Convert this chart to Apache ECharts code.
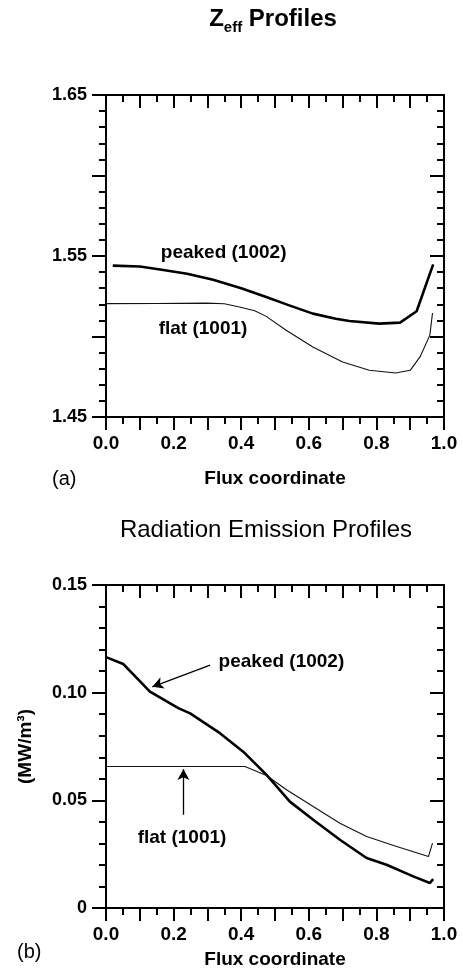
<!DOCTYPE html>
<html><head><meta charset="utf-8">
<script src="https://cdn.jsdelivr.net/npm/echarts@6/dist/echarts.min.js"></script>
<style>html,body{margin:0;padding:0;background:#fff}#c{width:463px;height:970px}</style>
</head><body><div id="c"></div>
<script>
// Panel (a): Zeff profiles
const fluxZeffPeaked = [0.02, 0.1, 0.16, 0.24, 0.317, 0.4, 0.474, 0.54, 0.612, 0.68, 0.72, 0.808, 0.87, 0.919, 0.968];
const zeffPeaked     = [1.544, 1.5435, 1.5416, 1.539, 1.5353, 1.530, 1.5245, 1.5195, 1.5142, 1.511, 1.5096, 1.508, 1.5086, 1.5157, 1.5448];
const fluxZeffFlat   = [0.0, 0.15, 0.297, 0.35, 0.395, 0.44, 0.474, 0.533, 0.612, 0.7, 0.779, 0.857, 0.9, 0.929, 0.958, 0.966];
const zeffFlat       = [1.5204, 1.5205, 1.5207, 1.5203, 1.5183, 1.5160, 1.5125, 1.5039, 1.4935, 1.4842, 1.479, 1.4773, 1.479, 1.4873, 1.5007, 1.5146];
// Panel (b): radiation emission profiles (MW/m^3)
const fluxRadPeaked  = [0.002, 0.051, 0.09, 0.13, 0.214, 0.249, 0.337, 0.406, 0.475, 0.544, 0.613, 0.692, 0.771, 0.83, 0.909, 0.958, 0.968];
const radPeaked      = [0.1164, 0.1133, 0.107, 0.1005, 0.0928, 0.0904, 0.0812, 0.0726, 0.0618, 0.0494, 0.041, 0.0317, 0.0232, 0.0201, 0.0147, 0.0116, 0.0134];
const fluxRadFlat    = [0.0, 0.2, 0.411, 0.475, 0.534, 0.613, 0.692, 0.771, 0.86, 0.954, 0.966];
const radFlat        = [0.0657, 0.0657, 0.0657, 0.0615, 0.0549, 0.0471, 0.0394, 0.0332, 0.0286, 0.0239, 0.0301];
// tick labels
const xTickLabels    = ['0.0', '0.2', '0.4', '0.6', '0.8', '1.0'];
const zeffTickLabels = ['1.45', '1.55', '1.65'];
const radTickLabels  = ['0', '0.05', '0.10', '0.15'];
const seriesNames    = ['peaked (1002)', 'flat (1001)'];

const zip = (xs, ys) => xs.map((x, i) => [x, ys[i]]);
const FONT = 'Liberation Sans';

function xFmt(v) {
  const s = v.toFixed(1);
  return xTickLabels.indexOf(s) >= 0 ? s : '';
}
function zeffFmt(v) {
  const s = v.toFixed(2);
  return zeffTickLabels.indexOf(s) >= 0 ? s : '';
}
function radFmt(v) {
  if (Math.abs(v) < 1e-9) return radTickLabels[0];
  const s = v.toFixed(2);
  return radTickLabels.indexOf(s) >= 0 ? s : '';
}

function xAxes(grid) {
  const base = {
    type: 'value', gridIndex: grid, min: 0, max: 1, interval: 0.1,
    splitLine: {show: false},
    axisLine: {show: true, onZero: false, lineStyle: {color: '#000', width: 2}},
    minorTick: {show: true, splitNumber: 2, length: 7, lineStyle: {color: '#000', width: 2}}
  };
  return [
    Object.assign({}, base, {
      position: 'bottom',
      axisTick: {show: true, inside: false, length: 13, lineStyle: {color: '#000', width: 2}},
      axisLabel: {show: true, margin: 17, formatter: xFmt, color: '#000', fontFamily: FONT, fontWeight: 'bold', fontSize: 19},
      name: 'Flux coordinate', nameLocation: 'middle', nameGap: grid === 0 ? 52 : 42,
      nameTextStyle: {color: '#000', fontFamily: FONT, fontWeight: 'bold', fontSize: 19}
    }),
    Object.assign({}, base, {
      position: 'top',
      axisTick: {show: true, inside: true, length: 13, lineStyle: {color: '#000', width: 2}},
      axisLabel: {show: false}
    })
  ];
}

function yAxes(grid, min, max, fmt, name) {
  const base = {
    type: 'value', gridIndex: grid, min: min, max: max, interval: 0.05,
    splitLine: {show: false},
    axisLine: {show: true, onZero: false, lineStyle: {color: '#000', width: 2}},
    minorTick: {show: true, splitNumber: 5, length: 7, lineStyle: {color: '#000', width: 2}}
  };
  const left = Object.assign({}, base, {
    position: 'left',
    axisTick: {show: true, inside: false, length: 14, lineStyle: {color: '#000', width: 2}},
    axisLabel: {show: true, margin: 19, formatter: fmt, color: '#000', fontFamily: FONT, fontWeight: 'bold', fontSize: 18}
  });
  if (name) {
    left.name = name; left.nameLocation = 'middle'; left.nameGap = 71; left.nameRotate = 90;
    left.nameTextStyle = {color: '#000', fontFamily: FONT, fontWeight: 'bold', fontSize: 19};
  }
  return [left, Object.assign({}, base, {
    position: 'right',
    axisTick: {show: true, inside: true, length: 14, lineStyle: {color: '#000', width: 2}},
    axisLabel: {show: false}
  })];
}

const labelStyle = {show: true, position: 'inside', color: '#000', fontFamily: FONT, fontWeight: 'bold', fontSize: 19, formatter: p => p.name};
const markText = (items) => ({silent: true, symbol: 'rect', symbolSize: 1, itemStyle: {color: 'rgba(0,0,0,0)'}, label: labelStyle, data: items});
const arrowStyle = {silent: true, symbol: ['none', 'arrow'], symbolSize: [9, 11], label: {show: false}, lineStyle: {color: '#000', width: 1.3, type: 'solid'}, emphasis: {disabled: true}};

const option = {
  animation: false,
  backgroundColor: '#fff',
  grid: [
    {left: 106, width: 338, top: 95, height: 322},
    {left: 106, width: 338, top: 585, height: 323}
  ],
  xAxis: [].concat(xAxes(0), xAxes(1)),
  yAxis: [].concat(yAxes(0, 1.45, 1.65, zeffFmt, null), yAxes(1, 0, 0.15, radFmt, '(MW/m³)')),
  graphic: [
    {type: 'text', x: 273, y: 21, style: {
      text: '{z|Z}{s|eff}{p| Profiles}', align: 'center', verticalAlign: 'middle',
      rich: {
        z: {fontFamily: FONT, fontWeight: 'bold', fontSize: 24, verticalAlign: 'top', fill: '#000', color: '#000'},
        s: {fontFamily: FONT, fontWeight: 'bold', fontSize: 15, verticalAlign: 'top', padding: [13, 0, 0, 0], fill: '#000', color: '#000'},
        p: {fontFamily: FONT, fontWeight: 'bold', fontSize: 24, verticalAlign: 'top', fill: '#000', color: '#000'}
      }}},
    {type: 'text', x: 266, y: 530, style: {text: 'Radiation Emission Profiles', align: 'center', verticalAlign: 'middle', font: '24px "Liberation Sans"', fill: '#000'}},
    {type: 'text', x: 52, y: 479, style: {text: '(a)', align: 'left', verticalAlign: 'middle', font: '20px "Liberation Sans"', fill: '#000'}},
    {type: 'text', x: 17, y: 952, style: {text: '(b)', align: 'left', verticalAlign: 'middle', font: '20px "Liberation Sans"', fill: '#000'}}
  ],
  series: [
    {name: seriesNames[0], type: 'line', xAxisIndex: 0, yAxisIndex: 0, data: zip(fluxZeffPeaked, zeffPeaked),
     showSymbol: false, lineStyle: {color: '#000', width: 2.6}, z: 3,
     markPoint: markText([{name: seriesNames[0], coord: [0.348, 1.5517]}, {name: seriesNames[1], coord: [0.287, 1.5045]}])},
    {name: seriesNames[1], type: 'line', xAxisIndex: 0, yAxisIndex: 0, data: zip(fluxZeffFlat, zeffFlat),
     showSymbol: false, lineStyle: {color: '#111', width: 1.1}},
    {name: seriesNames[0], type: 'line', xAxisIndex: 2, yAxisIndex: 2, data: zip(fluxRadPeaked, radPeaked),
     showSymbol: false, lineStyle: {color: '#000', width: 2.6}, z: 3,
     markPoint: markText([{name: seriesNames[0], coord: [0.519, 0.1142]}, {name: seriesNames[1], coord: [0.225, 0.0327]}]),
     markLine: Object.assign({}, arrowStyle, {data: [
       [{coord: [0.308, 0.1128]}, {coord: [0.137, 0.1027]}],
       [{coord: [0.229, 0.0433]}, {coord: [0.229, 0.0645]}]
     ]})},
    {name: seriesNames[1], type: 'line', xAxisIndex: 2, yAxisIndex: 2, data: zip(fluxRadFlat, radFlat),
     showSymbol: false, lineStyle: {color: '#111', width: 1.1}}
  ]
};
const chart = echarts.init(document.getElementById('c'), null, {renderer: 'canvas'});
chart.setOption(option);
</script>
</body></html>
